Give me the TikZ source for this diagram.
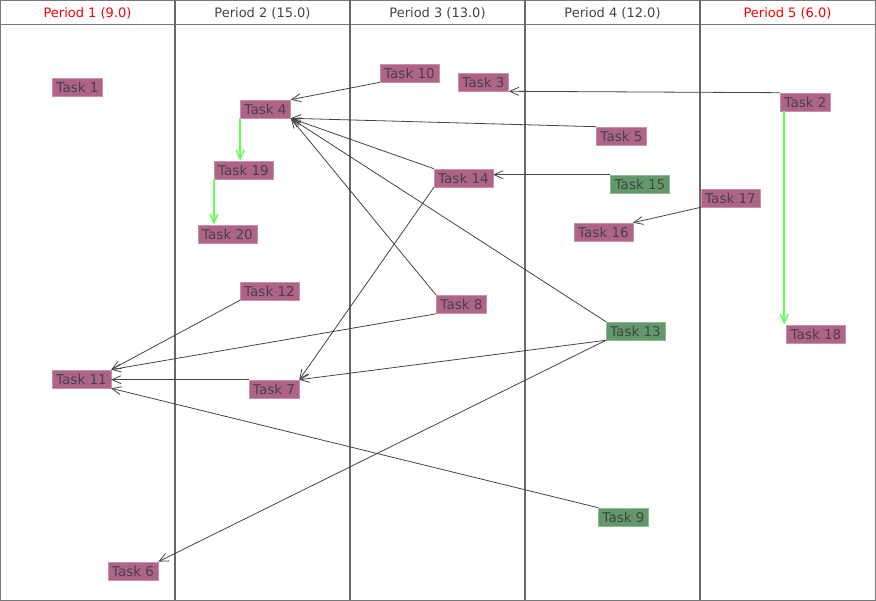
\documentclass[tikz,border=0pt]{standalone}
\usepackage{fontspec}
\setmainfont{DejaVu Sans}
\usetikzlibrary{arrows.meta}
\definecolor{taskpink}{HTML}{B06388}
\definecolor{taskgreen}{HTML}{62996A}
\definecolor{inkgray}{HTML}{444444}
\definecolor{framegray}{HTML}{777777}
\definecolor{linkgreen}{HTML}{66FF55}

\begin{document}
\begin{tikzpicture}[x=1pt,y=-1pt,
    task/.style={fill=taskpink,draw=taskpink!70!white,line width=0.6pt,text=inkgray,
        font=\fontsize{13.5}{15}\selectfont,inner xsep=4pt,inner ysep=0pt,minimum height=18pt},
    donetask/.style={task,fill=taskgreen,draw=taskgreen!70!white},
    period/.style={text=inkgray,font=\fontsize{13}{15}\selectfont},
    late/.style={text=red},
    dep/.style={draw=inkgray,line width=0.8pt,-{Straight Barb[length=9pt,width=8pt]}},
    chain/.style={dep,draw=linkgreen,line width=1.4pt}
]
\useasboundingbox (0,0) rectangle (876,601);
% Frame and columns
\draw[framegray,line width=1pt] (0.5,0.5) rectangle (875,600);
\draw[framegray,line width=1pt] (0,25) -- (875,25);
\foreach \x in {175,350,525,700}
    \draw[inkgray!80,line width=1.5pt] (\x,0) -- (\x,600);
% Period headers
\node[period,late] (P1) at (87.5,13){Period 1 (9.0)};
\node[period] (P2) at (262.5,13){Period 2 (15.0)};
\node[period] (P3) at (437.5,13){Period 3 (13.0)};
\node[period] (P4) at (612.5,13){Period 4 (12.0)};
\node[period,late] (P5) at (787.5,13){Period 5 (6.0)};
% Tasks
\node[task] (T1) at (77.5,87.5){Task 1};
\node[task] (T4) at (265.5,109){Task 4};
\node[task] (T19) at (243.5,170){Task 19};
\node[task] (T20) at (227.5,234){Task 20};
\node[task] (T10) at (409.5,73){Task 10};
\node[task] (T3) at (483.5,82){Task 3};
\node[task] (T2) at (805.5,102){Task 2};
\node[task] (T5) at (621.5,136){Task 5};
\node[task] (T14) at (463.5,178){Task 14};
\node[donetask] (T15) at (640,184){Task 15};
\node[task] (T17) at (730.5,198){Task 17};
\node[task] (T16) at (603.5,232){Task 16};
\node[task] (T12) at (269.5,291){Task 12};
\node[task] (T8) at (461.5,304.5){Task 8};
\node[donetask] (T13) at (635.5,331){Task 13};
\node[task] (T18) at (816,334){Task 18};
\node[task] (T11) at (81.5,379){Task 11};
\node[task] (T7) at (274,389){Task 7};
\node[donetask] (T9) at (623.5,517){Task 9};
\node[task] (T6) at (133,571){Task 6};
% Dependencies
\draw[dep] (T10.south west) -- (T4.north east);
\draw[dep] (T5.north west) -- (T4.south east);
\draw[dep] (T14.north west) -- (T4.south east);
\draw[dep] (T8.north west) -- (T4.south east);
\draw[dep] (T13.north west) -- (T4.south east);
\draw[dep] (T2.north west) -- (T3.south east);
\draw[dep] (T15.north west) -- (T15.north west -| T14.east);
\draw[dep] (T17.south west) -- (T16.north east);
\draw[dep] (T14.south west) -- (T7.north east);
\draw[dep] (T13.south west) -- (T7.north east);
\draw[dep] (T13.south west) -- (T6.north east);
\draw[dep] (T12.south west) -- (T11.north east);
\draw[dep] (T8.south west) -- (T11.north east);
\draw[dep] (T7.north west) -- (T7.north west -| T11.east);
\draw[dep] (T9.north west) -- (T11.south east);
% Same-chain links
\draw[chain] (T4.south west) -- (T4.south west |- T19.north);
\draw[chain] (T19.south west) -- (T19.south west |- T20.north);
\draw[chain] ([xshift=4pt]T2.south west) -- ([xshift=4pt]T2.south west |- T18.north);
\end{tikzpicture}
\end{document}
